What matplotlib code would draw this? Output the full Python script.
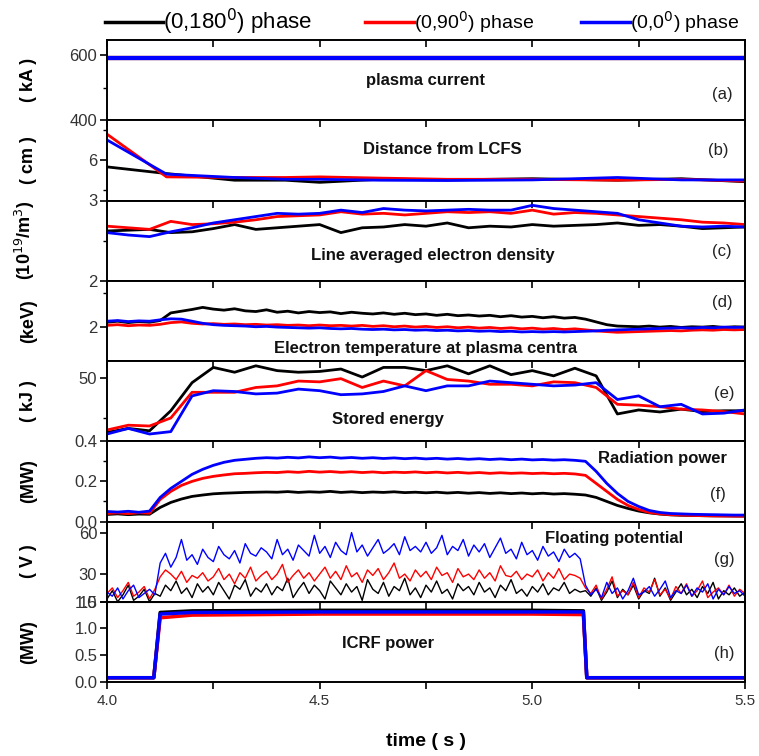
import numpy as np
import matplotlib
matplotlib.use("Agg")
import matplotlib.pyplot as plt
from matplotlib.ticker import MultipleLocator, FixedLocator

plt.rcParams["font.family"] = ["Liberation Sans", "DejaVu Sans"]

# (a) plasma current, kA
t_a = [4.0, 5.5]
ip_black = [592, 592]
ip_red = [592, 592]
ip_blue = [592, 592]

# (b) distance from LCFS, cm
t_b = [4.0, 4.14, 4.3, 4.42, 4.5, 4.64, 4.8, 5.0, 5.2, 5.35, 5.5]
gap_black = [5.77, 5.55, 5.33, 5.33, 5.26, 5.36, 5.34, 5.38, 5.33, 5.38, 5.28]
gap_red = [6.85, 5.44, 5.42, 5.42, 5.44, 5.40, 5.36, 5.36, 5.33, 5.36, 5.30]
gap_blue = [6.66, 5.53, 5.42, 5.36, 5.36, 5.33, 5.32, 5.34, 5.42, 5.34, 5.34]

# (c) line averaged density, 1e19 m^-3 (every 0.05 s)
t_c = np.linspace(4.0, 5.5, 31)
ne_black = [2.62, 2.63, 2.64, 2.60, 2.61, 2.65, 2.70, 2.64, 2.66, 2.68, 2.70,
            2.60, 2.66, 2.67, 2.70, 2.68, 2.72, 2.66, 2.68, 2.67, 2.70, 2.68,
            2.69, 2.70, 2.72, 2.69, 2.70, 2.68, 2.65, 2.66, 2.67]
ne_red = [2.68, 2.66, 2.64, 2.74, 2.70, 2.71, 2.73, 2.76, 2.80, 2.81, 2.82,
          2.86, 2.83, 2.84, 2.82, 2.84, 2.86, 2.85, 2.86, 2.84, 2.88, 2.83,
          2.85, 2.84, 2.82, 2.80, 2.78, 2.76, 2.73, 2.72, 2.70]
ne_blue = [2.60, 2.57, 2.55, 2.61, 2.66, 2.72, 2.76, 2.80, 2.84, 2.83, 2.84,
           2.88, 2.85, 2.90, 2.88, 2.87, 2.88, 2.89, 2.88, 2.88, 2.94, 2.90,
           2.88, 2.86, 2.84, 2.76, 2.72, 2.68, 2.67, 2.68, 2.67]

# (d) central electron temperature, keV (every 0.025 s)
t_d = np.linspace(4.0, 5.5, 61)
te_black = [2.15, 2.18, 2.14, 2.17, 2.15, 2.20,
            2.42, 2.47, 2.52, 2.58, 2.53, 2.50, 2.54, 2.48, 2.46, 2.51, 2.44, 2.47, 2.42, 2.46, 2.43,
            2.45, 2.40, 2.44, 2.41, 2.39, 2.42, 2.38, 2.41, 2.37, 2.39, 2.35, 2.38,
            2.34, 2.36, 2.33, 2.35, 2.31, 2.34, 2.30, 2.32, 2.28, 2.31, 2.27, 2.29,
            2.24, 2.16, 2.08, 2.04, 2.03, 2.02, 2.04, 2.01, 2.03, 2.00, 2.02, 2.01, 2.03, 2.00, 2.02, 2.01]
te_red = [2.06, 2.08, 2.05, 2.07, 2.06, 2.09,
          2.14, 2.16, 2.12, 2.10, 2.11, 2.09, 2.10, 2.08, 2.09, 2.07, 2.08, 2.06, 2.07, 2.05, 2.07,
          2.05, 2.06, 2.04, 2.06, 2.03, 2.05, 2.02, 2.04, 2.01, 2.03, 2.00, 2.02,
          1.99, 2.01, 1.98, 2.00, 1.97, 1.99, 1.96, 1.98, 1.95, 1.97, 1.94, 1.96,
          1.93, 1.90, 1.88, 1.86, 1.87, 1.88, 1.89, 1.90, 1.91, 1.90, 1.92, 1.93, 1.92, 1.94, 1.93, 1.94]
te_blue = [2.18, 2.20, 2.17, 2.19, 2.18, 2.22,
           2.25, 2.24, 2.18, 2.12, 2.08, 2.06, 2.05, 2.04, 2.02, 2.03, 2.01, 2.00, 1.99, 1.98, 1.99,
           1.97, 1.96, 1.97, 1.95, 1.94, 1.95, 1.93, 1.94, 1.92, 1.93, 1.91, 1.92,
           1.90, 1.91, 1.89, 1.90, 1.88, 1.89, 1.87, 1.88, 1.87, 1.88, 1.87, 1.88,
           1.89, 1.90, 1.92, 1.93, 1.94, 1.95, 1.96, 1.97, 1.98, 1.99, 1.98, 2.00, 1.99, 2.01, 2.00, 2.01]

# (e) stored energy, kJ (every 0.05 s)
t_e = np.linspace(4.0, 5.5, 31)
w_black = [43.2, 43.7, 43.4, 45.9, 49.4, 51.3, 50.7, 51.5, 50.9, 50.7, 50.8,
           51.1, 50.1, 51.3, 51.3, 50.9, 51.5, 50.5, 51.5, 50.4, 50.9, 50.25,
           51.2, 50.25, 45.5, 46.0, 45.75, 46.1, 45.8, 45.9, 45.9]
w_red = [43.5, 44.1, 44.0, 45.0, 48.2, 48.2, 48.2, 48.8, 49.0, 49.6, 49.5,
         49.9, 48.8, 49.6, 49.0, 50.9, 49.8, 49.6, 49.2, 49.2, 49.0, 49.5,
         49.4, 48.8, 46.7, 46.6, 46.4, 46.1, 46.0, 45.8, 45.5]
w_blue = [43.0, 43.7, 43.0, 43.3, 47.75, 48.4, 48.3, 48.0, 48.1, 48.6, 48.4,
          47.9, 48.0, 48.3, 49.0, 48.4, 49.0, 49.0, 49.6, 49.4, 49.2, 49.0,
          49.1, 49.4, 47.3, 47.75, 46.4, 46.7, 45.5, 45.6, 46.0]

# (f) radiation power, MW (every 0.025 s)
t_f = np.linspace(4.0, 5.5, 61)
prad_black = [0.035, 0.038, 0.034, 0.037, 0.036,
              0.070, 0.095, 0.112, 0.125, 0.132, 0.138, 0.141, 0.143, 0.145, 0.146, 0.147,
              0.146, 0.149, 0.145, 0.148, 0.146, 0.150, 0.145, 0.148, 0.144, 0.147,
              0.145, 0.148, 0.144, 0.146, 0.143, 0.146, 0.142, 0.145, 0.141, 0.144,
              0.140, 0.143, 0.139, 0.142, 0.138, 0.141, 0.137, 0.139, 0.136,
              0.132, 0.120, 0.100, 0.080, 0.065, 0.052, 0.043, 0.037,
              0.033, 0.031, 0.030, 0.029, 0.028, 0.028, 0.027, 0.027]
prad_red = [0.040, 0.043, 0.039, 0.044, 0.041,
            0.110, 0.150, 0.180, 0.200, 0.215, 0.225, 0.232, 0.238, 0.240, 0.243, 0.245,
            0.244, 0.248, 0.245, 0.250, 0.246, 0.249, 0.245, 0.248, 0.244, 0.247,
            0.243, 0.246, 0.244, 0.247, 0.243, 0.246, 0.242, 0.245, 0.241, 0.244,
            0.240, 0.243, 0.240, 0.242, 0.239, 0.241, 0.238, 0.240, 0.237,
            0.230, 0.190, 0.150, 0.110, 0.080, 0.060, 0.045, 0.038,
            0.034, 0.032, 0.030, 0.029, 0.028, 0.027, 0.027, 0.026]
prad_blue = [0.050, 0.047, 0.051, 0.046, 0.052,
             0.120, 0.165, 0.200, 0.235, 0.260, 0.280, 0.295, 0.305, 0.310, 0.315, 0.318,
             0.316, 0.320, 0.317, 0.322, 0.318, 0.321, 0.316, 0.319, 0.315, 0.318,
             0.314, 0.317, 0.313, 0.316, 0.312, 0.315, 0.311, 0.314, 0.310, 0.313,
             0.309, 0.312, 0.308, 0.311, 0.307, 0.309, 0.306, 0.308, 0.305,
             0.300, 0.250, 0.190, 0.140, 0.100, 0.075, 0.055, 0.045,
             0.040, 0.038, 0.036, 0.035, 0.034, 0.033, 0.032, 0.032]

# (g) floating potential, V (every 0.0125 s)
t_g = np.linspace(4.0, 5.5, 121)
vf_black = [12, 18, 10, 15, 22, 11, 14, 19, 10, 16,
            14, 22, 18, 25, 16, 20, 13, 23, 17, 21,
            15, 24, 18, 12, 22, 19, 26, 14, 20, 17,
            23, 15, 21, 18, 27, 13, 19, 24, 16, 22,
            18, 12, 25, 20, 15, 23, 17, 21, 11, 26,
            19, 16, 24, 14, 21, 18, 27, 15, 20, 13,
            22, 17, 25, 16, 19, 12, 23, 18, 21, 15,
            24, 17, 20, 13, 22, 18, 26, 16, 19, 14,
            21, 17, 23, 15, 20, 18, 24, 16, 19, 17,
            18, 14, 20, 11, 17, 25, 13, 19, 15, 22, 12,
            18, 16, 27, 14, 20, 11, 17, 23, 15, 19,
            13, 21, 16, 24, 12, 18, 15, 20, 14, 17]
vf_red = [16, 20, 13, 18, 24, 14, 17, 21, 12, 19,
          28, 33, 30, 26, 32, 24, 29, 27, 31, 25,
          28, 34, 26, 30, 23, 31, 27, 35, 25, 29,
          32, 26, 30, 37, 24, 29, 33, 27, 31, 25,
          30, 35, 27, 32, 26, 36, 28, 31, 24, 33,
          29, 34, 26, 31, 38, 27, 30, 25, 33, 28,
          32, 26, 35, 29, 31, 24, 34, 28, 30, 26,
          33, 27, 31, 25, 36, 29, 28, 32, 26, 30,
          28, 33, 25, 31, 27, 34, 26, 30, 29, 27,
          20, 16, 22, 12, 19, 28, 14, 18, 15, 24, 13,
          20, 17, 26, 15, 19, 12, 21, 16, 23, 14,
          18, 25, 13, 17, 20, 15, 22, 14, 19, 16]
vf_blue = [17, 14, 20, 12, 18, 22, 13, 16, 19, 15,
           38, 45, 35, 42, 55, 40, 44, 37, 48, 42,
           39, 50, 44, 41, 47, 38, 52, 45, 43, 49,
           46, 41, 55, 44, 48, 40, 51, 47, 43, 58,
           45, 50, 42, 53, 47, 44, 60, 46, 51, 43,
           49, 55, 45, 48, 52, 44, 57, 47, 50, 46,
           53, 45, 49, 58, 44, 50, 47, 55, 43, 51,
           46, 52, 42, 49, 56, 45, 48, 41, 53, 44,
           47, 40, 50, 43, 46, 39, 48, 42, 45, 41,
           22, 15, 19, 13, 24, 16, 20, 12, 18, 27, 15,
           17, 21, 14, 19, 25, 13, 18, 16, 22, 14,
           20, 17, 23, 12, 19, 15, 21, 16, 18, 14]

# (h) ICRF power, MW
t_h = [4.000, 4.110, 4.125, 4.200, 4.500, 5.000, 5.120, 5.128, 5.500]
icrf_black = [0.08, 0.08, 1.30, 1.33, 1.34, 1.34, 1.33, 0.08, 0.08]
icrf_red = [0.08, 0.08, 1.20, 1.25, 1.27, 1.27, 1.26, 0.08, 0.08]
icrf_blue = [0.08, 0.08, 1.27, 1.30, 1.31, 1.31, 1.31, 0.08, 0.08]

legend_labels = ["(0,180$^0$) phase", "(0,90$^0$) phase", "(0,0$^0$) phase"]
colors = ["black", "red", "blue"]

panels = [
    (t_a, [ip_black, ip_red, ip_blue], 3.0, (400, 647), [400, 600], ["400", "600"], [500],
     "( kA )", "plasma current", (0.50, 0.49), "(a)", (0.964, 0.32)),
    (t_b, [gap_black, gap_red, gap_blue], 2.0, (4.66, 7.31), [6], ["6"], [5, 7],
     "( cm )", "Distance from LCFS", (0.525, 0.64), "(b)", (0.958, 0.62)),
    (t_c, [ne_black, ne_red, ne_blue], 2.0, (2, 3), [2, 3], ["2", "3"], [2.5],
     "(10$^{19}$/m$^3$)", "Line averaged electron density", (0.51, 0.32), "(c)", (0.964, 0.36)),
    (t_d, [te_black, te_red, te_blue], 2.0, (1.03, 3.35), [2], ["2"], [3],
     "(keV)", "Electron temperature at plasma centra", (0.50, 0.16), "(d)", (0.964, 0.73)),
    (t_e, [w_black, w_red, w_blue], 2.0, (42.1, 52.1), [50], ["50"], [45],
     "( kJ )", "Stored energy", (0.44, 0.275), "(e)", (0.968, 0.59)),
    (t_f, [prad_black, prad_red, prad_blue], 2.0, (0, 0.4), [0, 0.2, 0.4], ["0.0", "0.2", "0.4"], [0.1, 0.3],
     "(MW)", "Radiation power", (0.87, 0.79), "(f)", (0.957, 0.34)),
    (t_g, [vf_black, vf_red, vf_blue], 1.0, (10, 68), [10, 30, 60], ["10", "30", "60"], [],
     "( V )", "Floating potential", (0.795, 0.79), "(g)", (0.968, 0.53)),
    (t_h, [icrf_black, icrf_red, icrf_blue], 2.5, (0, 1.5), [0, 0.5, 1.0, 1.5], ["0.0", "0.5", "1.0", "1.5"], [],
     "(MW)", "ICRF power", (0.44, 0.48), "(h)", (0.968, 0.36)),
]

fig = plt.figure(figsize=(7.59, 7.56), dpi=100)
axes = fig.subplots(8, 1, sharex=True, gridspec_kw=dict(hspace=0))
fig.subplots_adjust(left=107 / 759, right=745 / 759, top=1 - 40 / 756, bottom=1 - 682 / 756)

for ax, p in zip(axes, panels):
    t, series, lw, ylim, yt, ytl, ymin, ylab, name, name_pos, letter, letter_pos = p
    for y, c in zip(series, colors):
        ax.plot(t, y, color=c, lw=lw)
    ax.set_xlim(4.0, 5.5)
    ax.set_ylim(*ylim)
    ax.set_yticks(yt, ytl)
    ax.yaxis.set_minor_locator(FixedLocator(ymin))
    ax.tick_params(axis="y", direction="out", length=5, width=1.2, labelsize=12,
                   labelcolor="#333333", pad=2)
    ax.tick_params(axis="y", which="minor", direction="out", length=3, width=1.0)
    ax.xaxis.set_major_locator(MultipleLocator(0.5))
    ax.xaxis.set_minor_locator(MultipleLocator(0.25))
    ax.tick_params(axis="x", which="both", direction="in", top=True, bottom=False,
                   labelbottom=False, length=5, width=1.2)
    for s in ax.spines.values():
        s.set_linewidth(1.4)
    ax.text(*name_pos, name, transform=ax.transAxes, ha="center", va="center",
            fontsize=12, fontweight="bold", color="#111111")
    ax.text(*letter_pos, letter, transform=ax.transAxes, ha="center", va="center",
            fontsize=12, color="#222222")
    ax.set_ylabel(ylab, fontsize=13, fontweight="bold")
    ax.yaxis.set_label_coords(-0.11, 0.5)

bottom = axes[-1]
bottom.tick_params(axis="x", which="both", direction="out", top=False, bottom=True,
                   labelbottom=True, labelsize=11, labelcolor="#333333", length=5, width=1.2)
bottom.set_xticks([4.0, 4.5, 5.0, 5.5], ["4.0", "4.5", "5.0", "5.5"])
top_ax = bottom.secondary_xaxis("top")
top_ax.xaxis.set_major_locator(MultipleLocator(0.5))
top_ax.xaxis.set_minor_locator(MultipleLocator(0.25))
top_ax.tick_params(axis="x", which="both", direction="in", length=5, width=1.2, labeltop=False)
bottom.set_xlabel("time ( s )", fontsize=14, fontweight="bold", labelpad=18)

# legend across the top
leg_y = 1 - 22 / 756
for (x0, x1), lab, c, fs in zip([(105, 163), (365, 414), (581, 630)], legend_labels, colors, [16, 14, 14]):
    fig.add_artist(plt.Line2D([x0 / 759, x1 / 759], [leg_y, leg_y], color=c, lw=2.5,
                              transform=fig.transFigure))
    fig.text(x1 / 759, leg_y, lab, fontsize=fs, va="center", ha="left")

fig.savefig("out.png", dpi=100)
